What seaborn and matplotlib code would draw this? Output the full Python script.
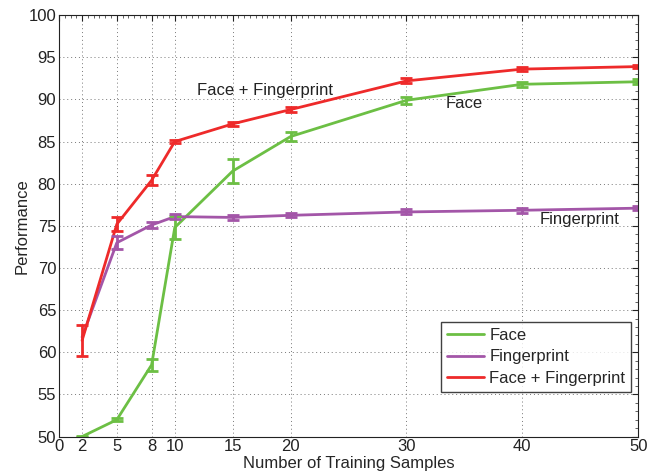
import matplotlib

matplotlib.use("Agg")
import matplotlib.pyplot as plt
import pandas as pd
import seaborn as sns
from matplotlib.ticker import MultipleLocator

samples = [2, 5, 8, 10, 15, 20, 30, 40, 50]
face = [50.0, 52.0, 58.5, 74.8, 81.5, 85.6, 89.9, 91.8, 92.1]
face_err = [0.1, 0.2, 0.7, 1.4, 1.4, 0.5, 0.4, 0.3, 0.3]
finger = [61.8, 73.0, 75.1, 76.1, 76.0, 76.25, 76.65, 76.85, 77.1]
finger_err = [0.0, 0.8, 0.4, 0.3, 0.25, 0.25, 0.3, 0.3, 0.2]
fusion = [61.4, 75.2, 80.4, 85.0, 87.1, 88.8, 92.2, 93.6, 93.9]
fusion_err = [1.8, 0.8, 0.6, 0.15, 0.25, 0.3, 0.3, 0.2, 0.2]

names = ["Face", "Fingerprint", "Face + Fingerprint"]
xticks = [0, 2, 5, 8, 10, 15, 20, 30, 40, 50]
colors = {"Face": "#6cbf44", "Fingerprint": "#a356a8", "Face + Fingerprint": "#ee2a2a"}

df = pd.concat([
    pd.DataFrame({"n": samples, "perf": v, "err": e, "method": name})
    for name, v, e in zip(names, [face, finger, fusion], [face_err, finger_err, fusion_err])
])

sns.set_style("white")
plt.rcParams["font.family"] = ["Liberation Sans", "DejaVu Sans"]
plt.rcParams["font.size"] = 12

fig = plt.figure(figsize=(6.62, 4.74), dpi=100)
ax = fig.add_axes([0.089, 0.079, 0.875, 0.889])

sns.lineplot(data=df, x="n", y="perf", hue="method", hue_order=names,
             palette=colors, lw=2, ax=ax, errorbar=None)
for name in names:
    sub = df[(df["method"] == name) & (df["err"] > 0)]
    ax.errorbar(sub["n"], sub["perf"], yerr=sub["err"], fmt="none",
                ecolor=colors[name], elinewidth=2, capsize=4, capthick=2)

ax.text(17.8, 91.1, "Face + Fingerprint", ha="center", va="center", color="#222222")
ax.text(35.0, 89.55, "Face", ha="center", va="center", color="#222222")
ax.text(44.9, 75.7, "Fingerprint", ha="center", va="center", color="#222222")

ax.set_xlim(0, 50)
ax.set_ylim(50, 100)
ax.set_xticks(xticks)
ax.set_yticks(range(50, 101, 5))
ax.xaxis.set_minor_locator(MultipleLocator(0.5))
ax.yaxis.set_minor_locator(MultipleLocator(1))
ax.tick_params(which="both", direction="in", top=True, right=True, colors="#222222",
               labelsize=12, pad=2)
ax.tick_params(which="major", length=4, width=0.8)
ax.tick_params(which="minor", length=2, width=0.5)
ax.grid(True, which="major", linestyle=(0, (1, 3)), color="#777777", lw=0.7)
for s in ax.spines.values():
    s.set_color("#222222")
    s.set_linewidth(0.8)

ax.set_xlabel("Number of Training Samples", labelpad=1)
ax.set_ylabel("Performance", labelpad=-1)

leg = ax.legend(loc="lower right", bbox_to_anchor=(0.988, 0.106), borderaxespad=0,
                frameon=True, fancybox=False, handlelength=2.2, handletextpad=0.35,
                borderpad=0.35, labelspacing=0.4)
leg.get_frame().set_edgecolor("#111111")
leg.get_frame().set_linewidth(1)
leg.set_title(None)

fig.savefig("out.png", dpi=100)
